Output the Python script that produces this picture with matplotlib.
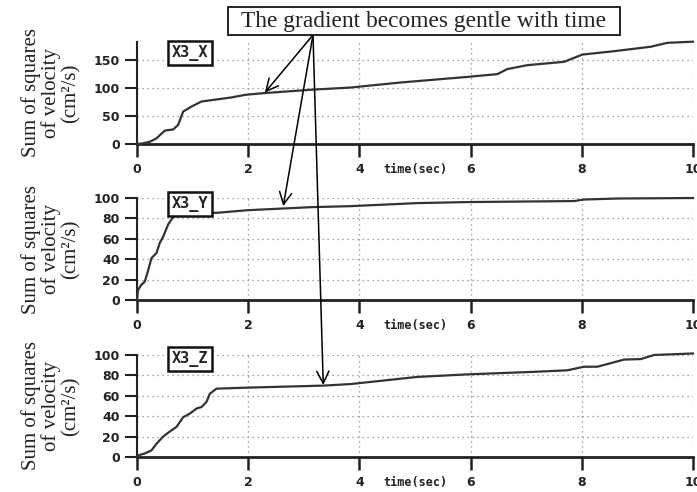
import matplotlib
matplotlib.use("Agg")
import matplotlib.pyplot as plt
from matplotlib.patches import ConnectionPatch, Rectangle

# (time in sec, sum of squares in cm^2/s)
t_x = [0, 0.1, 0.23, 0.35, 0.5, 0.65, 0.74, 0.83, 0.98, 1.16, 1.38, 1.68, 1.95, 2.28,
       3.12, 3.84, 4.74, 5.94, 6.48, 6.66, 7.02, 7.68, 8.01, 8.58, 9.24, 9.54, 10]
v_x = [0, 1, 4, 10, 24, 26, 34, 58, 67, 76, 79, 83, 88, 91,
       97, 101, 110, 120, 125, 134, 141, 147, 160, 166, 174, 181, 183]

t_y = [0, 0.02, 0.08, 0.14, 0.2, 0.26, 0.35, 0.41, 0.47, 0.56, 0.62, 0.7, 1.0, 1.44,
       1.98, 3.12, 3.84, 5.04, 5.94, 7.86, 8.04, 8.64, 10]
v_y = [0, 10, 15, 18, 29, 41, 46, 56, 62, 74, 79, 84, 85, 85.5,
       88, 91, 92, 95, 96, 97, 98.5, 99.5, 100]

t_z = [0, 0.02, 0.14, 0.26, 0.35, 0.47, 0.59, 0.71, 0.83, 0.95, 1.07, 1.16, 1.25, 1.31,
       1.43, 1.98, 3.36, 3.84, 5.04, 5.94, 7.14, 7.74, 8.04, 8.28, 8.76, 9.06, 9.3, 10]
v_z = [0, 1.5, 3.5, 6.5, 13, 20, 25, 29.5, 39, 42.5, 47.5, 49, 54, 62,
       67, 68, 70, 71.5, 78.5, 81, 83.5, 85, 88.5, 88.5, 95.5, 96, 100, 101.5]

names = ["X3_X", "X3_Y", "X3_Z"]
ylims = [183, 100, 100]
yticks = [[0, 50, 100, 150], [0, 20, 40, 60, 80, 100], [0, 20, 40, 60, 80, 100]]
xticks = [0, 2, 4, 6, 8, 10]
ylabel = "Sum of squares\nof velocity\n(cm\u00b2/s)"
note = "The gradient becomes gentle with time"
# where each arrow points (time, value)
arrow_tips = [(2.30, 92), (2.63, 92), (3.35, 70.5)]

W, H = 697, 492
fig = plt.figure(figsize=(W / 100, H / 100), dpi=100)

# axes boxes in pixel terms (top, bottom)
rows = [(41.7, 144), (198, 300), (355, 457)]
series = [(t_x, v_x), (t_y, v_y), (t_z, v_z)]
box_y = [0.89, 0.94, 0.96]

axes = []
for i, (top, bot) in enumerate(rows):
    ax = fig.add_axes([137 / W, 1 - bot / H, 556 / W, (bot - top) / H])
    ax.set_facecolor("none")
    t, v = series[i]
    ax.plot(t, v, color="#333333", lw=1.6, clip_on=False, zorder=3)
    ax.set_xlim(0, 10)
    ax.set_ylim(0, ylims[i])
    ax.set_xticks(xticks)
    ax.set_yticks(yticks[i])
    ax.grid(True, color="#888888", lw=0.9, linestyle=(0, (1, 3)))
    for s in ["top", "right"]:
        ax.spines[s].set_visible(False)
    ax.spines["left"].set_linewidth(1.5)
    ax.spines["bottom"].set_linewidth(2.0)
    ax.spines["bottom"].set_color("#222222")
    ax.spines["left"].set_color("#222222")
    ax.tick_params(axis="y", direction="out", length=9, width=1.5, pad=3.5,
                   labelsize=9, colors="#222222")
    ax.tick_params(axis="x", direction="out", length=9.5, width=1.8, pad=4,
                   labelsize=9, colors="#222222")
    for lab in ax.get_xticklabels() + ax.get_yticklabels():
        lab.set_fontweight("bold")
    ax.annotate("time(sec)", xy=(5.0, 0), xycoords=("data", "axes fraction"),
                xytext=(0, -13.5), textcoords="offset points",
                ha="center", va="top", fontsize=8.5, fontweight="bold",
                family="DejaVu Sans Mono", color="#222222")
    ax.text(0.095, box_y[i], names[i], transform=ax.transAxes, ha="center",
            va="center", fontsize=11, fontweight="bold", family="DejaVu Sans Mono",
            color="#222222", zorder=5,
            bbox=dict(boxstyle="square,pad=0.25", fc="white", ec="#111111", lw=1.8))
    ax.text(-0.155, 0.5, ylabel, transform=ax.transAxes, rotation=90,
            ha="center", va="center", multialignment="center",
            fontsize=15, family="Liberation Serif", linespacing=1.0, color="#222222")
    axes.append(ax)

# note box with arrows
fig.add_artist(Rectangle((228 / W, 1 - 35 / H), 392 / W, 28 / H,
                         transform=fig.transFigure, fc="white", ec="black",
                         lw=1.2, zorder=9))
fig.text(424 / W, 1 - 21.5 / H, note, ha="center", va="center", fontsize=16.8,
         family="Liberation Serif", color="#222222", zorder=10)

start = (313 / W, 1 - 35 / H)
for ax, tip in zip(axes, arrow_tips):
    con = ConnectionPatch(xyA=start, coordsA=fig.transFigure, xyB=tip,
                          coordsB=ax.transData, arrowstyle="->", lw=1.1,
                          color="black", mutation_scale=22, shrinkA=0, shrinkB=0)
    fig.add_artist(con)

fig.savefig("out.png", dpi=100)
